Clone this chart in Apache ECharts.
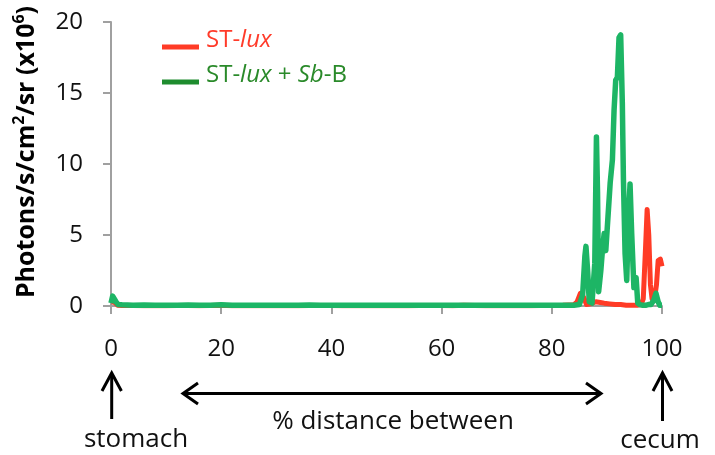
<!DOCTYPE html>
<html>
<head>
<meta charset="utf-8">
<script src="https://cdn.jsdelivr.net/npm/echarts@6/dist/echarts.min.js"></script>
<style>html,body{margin:0;padding:0;background:#fff}#c{width:715px;height:455px}</style>
</head>
<body>
<div id="c"></div>
<script>
// ---- data ----
const xTicks = [0, 20, 40, 60, 80, 100];
const yTicks = [0, 5, 10, 15, 20];

const redX = [0, 0.4, 0.8, 1.2, 2, 4, 6, 8, 10, 12, 14, 16, 18, 20, 22, 24, 26, 28, 30, 32, 34, 36, 38, 40, 42, 44, 46, 48, 50, 52, 54, 56, 58, 60, 62, 64, 66, 68, 70, 72, 74, 76, 78, 80, 82, 84, 84.6, 85.2, 85.8, 86.3, 87, 88, 88.8, 89.5, 90.5, 91.5, 92.5, 93.5, 94.5, 95.5, 96.2, 96.6, 97.0, 97.3, 97.6, 97.9, 98.2, 98.6, 99.0, 99.3, 99.7, 100];
const redY = [0.25, 0.3, 0.2, 0.05, 0.03, 0.03, 0.02, 0.03, 0.02, 0.03, 0.04, 0.02, 0.03, 0.05, 0.02, 0.03, 0.02, 0.03, 0.02, 0.03, 0.02, 0.03, 0.04, 0.03, 0.02, 0.03, 0.02, 0.03, 0.02, 0.03, 0.02, 0.03, 0.04, 0.03, 0.02, 0.05, 0.03, 0.02, 0.03, 0.02, 0.03, 0.02, 0.03, 0.04, 0.05, 0.08, 0.3, 0.9, 0.6, 0.1, 0.15, 0.3, 0.25, 0.2, 0.15, 0.1, 0.1, 0.05, 0.05, 0.05, 0.1, 0.5, 4.0, 6.8, 5.0, 1.5, 0.5, 0.4, 1.5, 3.2, 3.3, 2.8];

const greenX = [0, 0.3, 0.6, 0.9, 1.3, 2, 4, 6, 8, 10, 12, 14, 16, 18, 20, 22, 24, 26, 28, 30, 32, 34, 36, 38, 40, 42, 44, 46, 48, 50, 52, 54, 56, 58, 60, 62, 64, 66, 68, 70, 72, 74, 76, 78, 80, 82, 84, 85.0, 85.6, 86.0, 86.2, 86.5, 86.8, 87.3, 87.8, 88.1, 88.3, 88.5, 88.9, 89.2, 89.5, 89.8, 90.2, 90.6, 91.0, 91.3, 91.6, 91.9, 92.2, 92.5, 92.8, 93.0, 93.3, 93.6, 93.9, 94.2, 94.5, 94.9, 95.3, 95.6, 96.0, 96.5, 97.0, 97.5, 98.0, 98.5, 98.9, 99.3, 99.6, 100];
const greenY = [0.2, 0.7, 0.8, 0.3, 0.1, 0.08, 0.06, 0.07, 0.05, 0.06, 0.05, 0.07, 0.05, 0.06, 0.08, 0.05, 0.06, 0.05, 0.06, 0.05, 0.06, 0.05, 0.07, 0.05, 0.06, 0.05, 0.06, 0.05, 0.06, 0.05, 0.06, 0.05, 0.06, 0.05, 0.06, 0.05, 0.06, 0.05, 0.06, 0.05, 0.06, 0.05, 0.06, 0.05, 0.06, 0.05, 0.05, 0.1, 0.8, 3.5, 4.2, 2.5, 0.3, 0.2, 3.0, 11.9, 8.0, 1.0, 2.5, 4.0, 5.1, 3.9, 6.3, 8.7, 10.3, 13.8, 15.9, 16.1, 18.9, 19.1, 14.3, 8.9, 3.7, 1.8, 6.1, 8.6, 5.1, 1.3, 2.0, 0.2, 0.1, 0.05, 0.05, 0.1, 0.1, 0.4, 0.9, 0.3, 0.05, 0.05];

const seriesNames = ['ST-lux', 'ST-lux + Sb-B'];
const yAxisTitle = ['Photons/s/cm', '2', '/sr (x10', '6', ')'];
const bottomTexts = ['stomach', '% distance between', 'cecum'];

// ---- chart ----
const FONT = '"Open Sans", "DejaVu Sans", sans-serif';
const zip = (xs, ys) => xs.map((x, i) => [x, ys[i]]);
const chart = echarts.init(document.getElementById('c'), null, {renderer: 'canvas'});

const AX = '#a0a0a0';
const arrowStyle = {stroke: '#000', lineWidth: 3, fill: null, lineCap: 'butt', lineJoin: 'miter'};

chart.setOption({
  animation: false,
  backgroundColor: '#fff',
  grid: {left: 111, right: 53, top: 22, bottom: 149, containLabel: false},
  legend: {
    orient: 'vertical', left: 157, top: 23,
    icon: 'rect', itemWidth: 37, itemHeight: 5, itemGap: 0,
    selectedMode: false,
    data: [
      {name: seriesNames[0], itemStyle: {color: '#ff3b26'}, textStyle: {color: '#ff3b2a'}},
      {name: seriesNames[1], itemStyle: {color: '#1e8c2e'}, textStyle: {color: '#2a8a2a'}}
    ],
    formatter: function (name) {
      if (name === seriesNames[0]) return '{n|ST-}{i|lux}';
      return '{n|ST-}{i|lux}{n| + }{i|Sb}{n|-B}';
    },
    textStyle: {
      fontFamily: FONT, fontSize: 24, lineHeight: 18, padding: [0, 0, 14, 2],
      rich: {
        n: {fontFamily: FONT, fontSize: 24, lineHeight: 18},
        i: {fontFamily: FONT, fontSize: 24, lineHeight: 18, fontStyle: 'italic'}
      }
    }
  },
  xAxis: {
    type: 'value', min: 0, max: 100, interval: 20,
    axisLine: {show: true, lineStyle: {color: AX, width: 2}},
    axisTick: {show: true, length: 8, lineStyle: {color: AX, width: 2}},
    splitLine: {show: false},
    axisLabel: {margin: 31, color: '#111', fontFamily: FONT, fontSize: 24,
      formatter: v => xTicks.includes(v) ? String(v) : ''}
  },
  yAxis: {
    type: 'value', min: 0, max: 20, interval: 5,
    axisLine: {show: true, lineStyle: {color: AX, width: 2}},
    axisTick: {show: true, length: 8, lineStyle: {color: AX, width: 2}},
    splitLine: {show: false},
    axisLabel: {margin: 28, color: '#111', fontFamily: FONT, fontSize: 24,
      formatter: v => yTicks.includes(v) ? String(v) : ''}
  },
  series: [
    {name: seriesNames[0], type: 'line', data: zip(redX, redY), symbol: 'none',
      lineStyle: {color: '#ff3b26', width: 5, join: 'round'}, itemStyle: {color: '#ff3b26'}, z: 2},
    {name: seriesNames[1], type: 'line', data: zip(greenX, greenY), symbol: 'none',
      lineStyle: {color: '#1db565', width: 5.5, join: 'round'}, itemStyle: {color: '#1db565'}, z: 3}
  ],
  graphic: [
    {type: 'text', x: 27, y: 152, rotation: Math.PI / 2,
      style: {
        text: '{a|' + yAxisTitle[0] + '}{s|' + yAxisTitle[1] + '}{a|' + yAxisTitle[2] + '}{s|' + yAxisTitle[3] + '}{a|' + yAxisTitle[4] + '}',
        align: 'center', verticalAlign: 'middle', fill: '#000',
        font: 'bold 25px ' + FONT,
        rich: {
          a: {fontFamily: FONT, fontWeight: 'bold', fontSize: 25, lineHeight: 32, fill: '#000'},
          s: {fontFamily: FONT, fontWeight: 'bold', fontSize: 16, lineHeight: 32, verticalAlign: 'top', fill: '#000'}
        }
      }},
    // up arrow at stomach
    {type: 'line', shape: {x1: 111.7, y1: 419, x2: 111.7, y2: 374}, style: arrowStyle},
    {type: 'polyline', shape: {points: [[102, 391], [111.7, 373], [121.4, 391]]}, style: arrowStyle},
    // double arrow
    {type: 'line', shape: {x1: 184, y1: 393.5, x2: 599, y2: 393.5}, style: arrowStyle},
    {type: 'polyline', shape: {points: [[198, 383], [183, 393.5], [198, 404]]}, style: arrowStyle},
    {type: 'polyline', shape: {points: [[586, 383], [601, 393.5], [586, 404]]}, style: arrowStyle},
    // up arrow at cecum
    {type: 'line', shape: {x1: 662.5, y1: 421, x2: 662.5, y2: 374}, style: arrowStyle},
    {type: 'polyline', shape: {points: [[653, 391], [662.5, 373], [672, 391]]}, style: arrowStyle},
    {type: 'text', x: 136, y: 440, style: {text: bottomTexts[0], align: 'center', verticalAlign: 'middle', fill: '#111', font: '26px ' + FONT}},
    {type: 'text', x: 393, y: 422, style: {text: bottomTexts[1], align: 'center', verticalAlign: 'middle', fill: '#111', font: '26px ' + FONT}},
    {type: 'text', x: 660, y: 441, style: {text: bottomTexts[2], align: 'center', verticalAlign: 'middle', fill: '#111', font: '26px ' + FONT}}
  ]
});
</script>
</body>
</html>
